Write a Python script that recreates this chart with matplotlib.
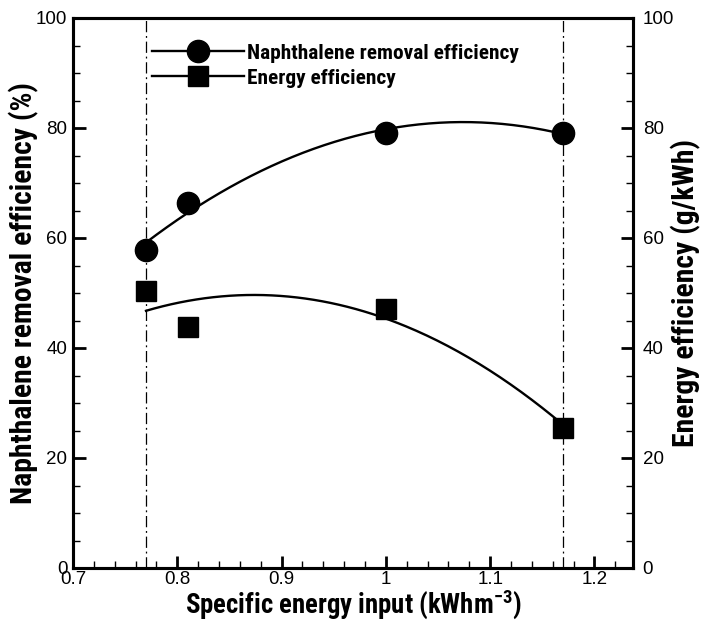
import numpy as np
import matplotlib
matplotlib.use("Agg")
import matplotlib.pyplot as plt
from matplotlib.ticker import MultipleLocator

plt.rcParams['font.family'] = ['Liberation Sans', 'DejaVu Sans']
plt.rcParams['mathtext.default'] = 'regular'
BOLD_FAMILY = ['Roboto Condensed', 'Liberation Sans', 'DejaVu Sans']

energy_input = [0.77, 0.81, 1.00, 1.17]
removal_eff = [57.8, 66.4, 79.1, 79.1]
energy_eff = [50.3, 43.8, 47.1, 25.5]
series_names = ['Naphthalene removal efficiency', 'Energy efficiency']

W, H = 702, 623
fig = plt.figure(figsize=(W / 100, H / 100), dpi=100)
ax = fig.add_axes([73 / W, 1 - 568 / H, (633 - 73) / W, (568 - 18) / H])
ax2 = ax.twinx()


def fit_size(text, target_px, size=14):
    """Font size that gives `text` the requested length in pixels."""
    t = fig.text(0, 0, text, fontsize=size, fontweight='bold', family=BOLD_FAMILY)
    bb = t.get_window_extent(renderer=fig.canvas.get_renderer())
    t.remove()
    return size * target_px / bb.width


# quadratic trend lines over the measured range
xf = np.linspace(min(energy_input), max(energy_input), 200)
pr = np.polyfit(energy_input, removal_eff, 2)
pe = np.polyfit(energy_input, energy_eff, 2)
ax.plot(xf, np.polyval(pr, xf), color='black', lw=1.7, zorder=2)
ax2.plot(xf, np.polyval(pe, xf), color='black', lw=1.7, zorder=2)

ax.plot(energy_input, removal_eff, 'o', color='black', ms=16, zorder=3)
ax2.plot(energy_input, energy_eff, 's', color='black', ms=13.8, zorder=3)

for xv in (energy_input[0], energy_input[-1]):
    ax.axvline(xv, color='black', lw=0.9, ls=(0, (9, 3, 1.5, 3)), zorder=1)

# legend
leg_size = fit_size(series_names[0], 273)
h1, = ax.plot([], [], '-o', color='black', ms=16, lw=1.7)
h2, = ax.plot([], [], '-s', color='black', ms=13.8, lw=1.7)
hl_px = 92
leg = ax.legend([h1, h2], series_names,
                loc='upper left', bbox_to_anchor=((152 - 73) / 560, (568 - 43) / 550),
                frameon=False, handlelength=hl_px / (leg_size * 100 / 72),
                handletextpad=0.15, labelspacing=0.2, handleheight=0.9,
                borderaxespad=0, borderpad=0,
                prop={'weight': 'bold', 'size': leg_size, 'family': BOLD_FAMILY})

for a in (ax, ax2):
    a.set_xlim(0.7, 1.237)
    a.set_ylim(0, 100)
    a.yaxis.set_major_locator(MultipleLocator(20))
    a.yaxis.set_minor_locator(MultipleLocator(5))
    for s in a.spines.values():
        s.set_linewidth(2.2)
ax.xaxis.set_minor_locator(MultipleLocator(0.02))
ax.set_xticks([0.7, 0.8, 0.9, 1.0, 1.1, 1.2])
ax.set_xticklabels(['0.7', '0.8', '0.9', '1', '1.1', '1.2'])

ax.tick_params(axis='both', which='major', direction='in', length=9, width=2,
               labelsize=13.5, pad=2)
ax.tick_params(axis='both', which='minor', direction='in', length=5, width=1)
ax.tick_params(axis='y', left=True, right=False, pad=4)
ax.tick_params(axis='x', top=False)
ax2.tick_params(axis='y', which='major', direction='in', length=9, width=2,
                labelsize=13.5, pad=7)
ax2.tick_params(axis='y', which='minor', direction='in', length=5, width=1)

xl = 'Specific energy input (kWhm$^{-3}$)'
yl = series_names[0] + ' (%)'
yr = 'Energy efficiency (g/kWh)'
ax.set_xlabel(xl, fontsize=fit_size(xl, 338), fontweight='bold', family=BOLD_FAMILY,
              va='center')
ax.set_ylabel(yl, fontsize=fit_size(yl, 423), fontweight='bold', family=BOLD_FAMILY,
              va='center')
ax2.set_ylabel(yr, fontsize=fit_size(yr, 309), fontweight='bold', family=BOLD_FAMILY,
               va='center')
ax.xaxis.set_label_coords(0.5, (568 - 604) / 550)
ax.yaxis.set_label_coords((24 - 73) / 560, 0.5)
ax2.yaxis.set_label_coords((686 - 73) / 560, 0.5)

fig.savefig('out.png', dpi=100)
